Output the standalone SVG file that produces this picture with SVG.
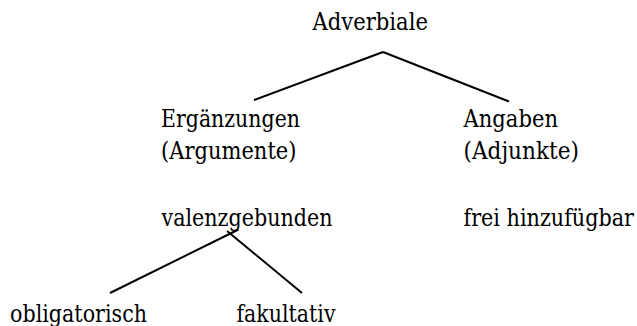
<svg xmlns="http://www.w3.org/2000/svg" width="637" height="326" viewBox="0 0 637 326">
<style>
text{font-family:'DejaVu Serif','Liberation Serif',serif;font-size:23.5px;fill:#000}
</style>
<rect width="637" height="326" fill="#fff"/>
<g id="connectors" stroke="#000" stroke-width="2">
<line x1="254" y1="100" x2="383" y2="52"/>
<line x1="383" y1="52" x2="509" y2="101.5"/>
<line x1="110" y1="293" x2="238.5" y2="229.5"/>
<line x1="227" y1="231" x2="302" y2="293"/>
</g>
<g id="adverbiale"><text x="312.5" y="30" textLength="115.5" lengthAdjust="spacingAndGlyphs">Adverbiale</text></g>
<g id="ergaenzungen"><text x="161" y="126.5" textLength="139" lengthAdjust="spacingAndGlyphs">Ergänzungen</text><text x="161" y="158.5" textLength="135.5" lengthAdjust="spacingAndGlyphs">(Argumente)</text></g>
<g id="angaben"><text x="463.5" y="126.5" textLength="94.5" lengthAdjust="spacingAndGlyphs">Angaben</text><text x="463.5" y="158.5" textLength="115.5" lengthAdjust="spacingAndGlyphs">(Adjunkte)</text></g>
<g id="valenzgebunden"><text x="161.5" y="225.5" textLength="171" lengthAdjust="spacingAndGlyphs">valenzgebunden</text></g>
<g id="frei"><text x="463.5" y="225.5" textLength="170.5" lengthAdjust="spacingAndGlyphs">frei hinzufügbar</text></g>
<g id="obligatorisch"><text x="10" y="321.5" textLength="137" lengthAdjust="spacingAndGlyphs">obligatorisch</text></g>
<g id="fakultativ"><text x="236.5" y="321.5" textLength="99" lengthAdjust="spacingAndGlyphs">fakultativ</text></g>
</svg>
